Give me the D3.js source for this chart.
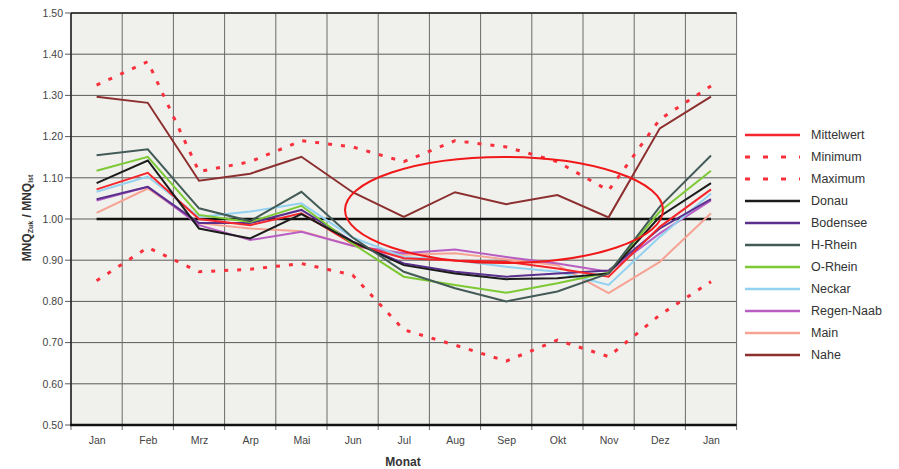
<!DOCTYPE html>
<html>
<head>
<meta charset="utf-8">
<script src="https://cdn.jsdelivr.net/npm/d3@7"></script>
<style>
  body { margin: 0; background: #fff; }
  text { font-family: "Liberation Sans", Arial, sans-serif; }
</style>
</head>
<body>
<svg id="chart" width="899" height="469"></svg>
<script>
// month labels (last Jan closes the year)
const months = ["Jan", "Feb", "Mrz", "Arp", "Mai", "Jun", "Jul", "Aug", "Sep", "Okt", "Nov", "Dez", "Jan"];
const yTicks = [0.5, 0.6, 0.7, 0.8, 0.9, 1.0, 1.1, 1.2, 1.3, 1.4, 1.5];

// values
const mittelwert = [1.072, 1.112, 1.000, 0.985, 1.014, 0.940, 0.905, 0.899, 0.896, 0.880, 0.860, 0.981, 1.072];
const minimum    = [0.850, 0.931, 0.872, 0.878, 0.892, 0.864, 0.731, 0.694, 0.655, 0.706, 0.666, 0.767, 0.848];
const maximum    = [1.325, 1.382, 1.115, 1.139, 1.190, 1.175, 1.139, 1.190, 1.175, 1.139, 1.069, 1.242, 1.323];
const donau      = [1.087, 1.142, 0.977, 0.953, 1.012, 0.945, 0.888, 0.868, 0.854, 0.856, 0.868, 1.006, 1.087];
const bodensee   = [1.048, 1.078, 0.990, 0.990, 1.022, 0.945, 0.892, 0.872, 0.860, 0.868, 0.875, 0.977, 1.048];
const hRhein     = [1.155, 1.169, 1.026, 0.995, 1.066, 0.955, 0.872, 0.832, 0.800, 0.824, 0.868, 1.030, 1.154];
const oRhein     = [1.117, 1.151, 1.010, 0.993, 1.032, 0.940, 0.860, 0.840, 0.821, 0.844, 0.870, 1.018, 1.117];
const neckar     = [1.066, 1.103, 1.005, 1.018, 1.038, 0.955, 0.908, 0.900, 0.884, 0.872, 0.840, 0.957, 1.062];
const regenNaab  = [1.045, 1.078, 0.985, 0.949, 0.969, 0.935, 0.917, 0.926, 0.908, 0.892, 0.872, 0.965, 1.045];
const main       = [1.015, 1.074, 0.990, 0.977, 0.970, 0.935, 0.913, 0.917, 0.902, 0.888, 0.820, 0.896, 1.014];
const nahe       = [1.297, 1.282, 1.093, 1.110, 1.151, 1.065, 1.005, 1.065, 1.036, 1.058, 1.004, 1.220, 1.297];
const reference  = months.map(() => 1.0);

const series = [
  { name: "Mittelwert", values: mittelwert, color: "#f5262c", width: 2, dash: null },
  { name: "Minimum", values: minimum, color: "#f8303c", width: 3, dash: "4,9" },
  { name: "Maximum", values: maximum, color: "#f8303c", width: 3, dash: "4,9" },
  { name: "Donau", values: donau, color: "#1c1c1c", width: 2, dash: null },
  { name: "Bodensee", values: bodensee, color: "#5b2f8e", width: 2, dash: null },
  { name: "H-Rhein", values: hRhein, color: "#435b57", width: 2, dash: null },
  { name: "O-Rhein", values: oRhein, color: "#7cc934", width: 2, dash: null },
  { name: "Neckar", values: neckar, color: "#92d2f0", width: 2, dash: null },
  { name: "Regen-Naab", values: regenNaab, color: "#b85ec2", width: 2, dash: null },
  { name: "Main", values: main, color: "#f7a393", width: 2, dash: null },
  { name: "Nahe", values: nahe, color: "#8c2f2f", width: 2, dash: null }
];

const svg = d3.select("#chart");
const plotL = 71, plotR = 736.6, plotT = 13, plotB = 425;

const xb = d3.scaleBand().domain(d3.range(months.length)).range([plotL, plotR]).padding(0);
const x = i => xb(i) + xb.bandwidth() / 2;
const y = d3.scaleLinear().domain([0.5, 1.5]).range([plotB, plotT]);

// plot background
svg.append("rect")
  .attr("x", plotL).attr("y", plotT)
  .attr("width", plotR - plotL).attr("height", plotB - plotT)
  .attr("fill", "#f0f0ed");

// horizontal grid
svg.append("g")
  .selectAll("line")
  .data(yTicks)
  .enter().append("line")
  .attr("x1", plotL - 6).attr("x2", plotR)
  .attr("y1", d => y(d)).attr("y2", d => y(d))
  .attr("stroke", "#5a5a5a").attr("stroke-width", 1);

// vertical grid at band edges
svg.append("g")
  .selectAll("line")
  .data(d3.range(months.length + 1))
  .enter().append("line")
  .attr("x1", d => plotL + d * xb.bandwidth()).attr("x2", d => plotL + d * xb.bandwidth())
  .attr("y1", plotT).attr("y2", plotB + 5)
  .attr("stroke", "#6a6a6a").attr("stroke-width", 1);

// frame
svg.append("line").attr("x1", plotL).attr("x2", plotR).attr("y1", plotT).attr("y2", plotT)
  .attr("stroke", "#222").attr("stroke-width", 1.5);
svg.append("line").attr("x1", plotL).attr("x2", plotL).attr("y1", plotT).attr("y2", plotB)
  .attr("stroke", "#222").attr("stroke-width", 1.5);
svg.append("line").attr("x1", plotL - 1).attr("x2", plotR).attr("y1", plotB).attr("y2", plotB)
  .attr("stroke", "#111").attr("stroke-width", 2.5);

// y axis labels
svg.append("g")
  .attr("transform", `translate(${plotL - 7},0)`)
  .call(d3.axisLeft(y).tickValues(yTicks).tickFormat(d3.format(".2f")).tickSize(0).tickPadding(1))
  .call(g => g.select(".domain").remove())
  .selectAll("text")
  .attr("font-size", "10.5px")
  .attr("fill", "#444")
  .attr("font-family", "Liberation Sans, Arial, sans-serif");

// x axis labels
svg.append("g")
  .attr("transform", `translate(0,${plotB})`)
  .call(d3.axisBottom(d3.scalePoint().domain(d3.range(months.length)).range([x(0), x(months.length - 1)]))
    .tickFormat(i => months[i]).tickSize(0).tickPadding(12))
  .call(g => g.select(".domain").remove())
  .selectAll("text")
  .attr("font-size", "10.5px")
  .attr("fill", "#444")
  .attr("font-family", "Liberation Sans, Arial, sans-serif");

// axis titles
svg.append("text")
  .attr("x", 403).attr("y", 466)
  .attr("text-anchor", "middle")
  .attr("font-size", "12px").attr("font-weight", "bold").attr("fill", "#333")
  .text("Monat");

const yTitle = svg.append("text")
  .attr("transform", "translate(31,218) rotate(-90)")
  .attr("text-anchor", "middle")
  .attr("font-size", "12px").attr("font-weight", "bold").attr("fill", "#333");
yTitle.append("tspan").text("MNQ");
yTitle.append("tspan").attr("font-size", "7px").attr("dy", 2).text("Zuk");
yTitle.append("tspan").attr("dy", -2).text(" / MNQ");
yTitle.append("tspan").attr("font-size", "7px").attr("dy", 2).text("Ist");

const line = d3.line().x((d, i) => x(i)).y(d => y(d));

// reference line at 1.00
svg.append("path")
  .datum(reference)
  .attr("d", line)
  .attr("fill", "none").attr("stroke", "#111").attr("stroke-width", 2.5);

// series lines, drawn back to front
const drawOrder = ["Minimum", "Maximum", "Main", "Regen-Naab", "Neckar", "Bodensee", "Mittelwert", "O-Rhein", "Donau", "H-Rhein", "Nahe"];
svg.append("g")
  .selectAll("path")
  .data(drawOrder.map(n => series.find(s => s.name === n)))
  .enter().append("path")
  .attr("d", d => line(d.values))
  .attr("fill", "none")
  .attr("stroke", d => d.color)
  .attr("stroke-width", d => d.width)
  .attr("stroke-dasharray", d => d.dash)
  .attr("stroke-linejoin", "miter");

// annotation ellipse
svg.append("ellipse")
  .attr("cx", 504).attr("cy", 210).attr("rx", 159).attr("ry", 53)
  .attr("fill", "none").attr("stroke", "#f01818").attr("stroke-width", 2);

// legend
const legend = svg.append("g").attr("transform", "translate(745,135)");
const item = legend.selectAll("g")
  .data(series)
  .enter().append("g")
  .attr("transform", (d, i) => `translate(0,${i * 22})`);
item.append("line")
  .attr("x1", 0).attr("x2", 55)
  .attr("stroke", d => d.color)
  .attr("stroke-width", d => d.dash ? 3 : 2.5)
  .attr("stroke-dasharray", d => d.dash ? "5,13" : null);
item.append("text")
  .attr("x", 66).attr("dy", "0.35em")
  .attr("font-size", "12.5px").attr("fill", "#333")
  .text(d => d.name);
</script>
</body>
</html>
